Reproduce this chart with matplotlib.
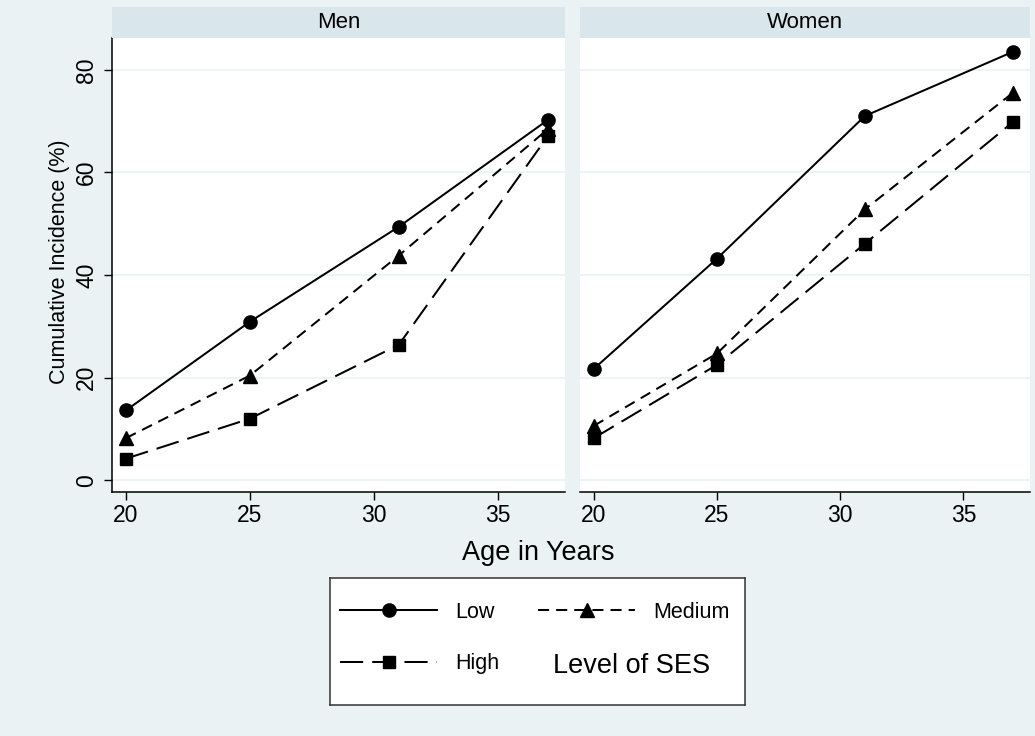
import matplotlib
matplotlib.use('Agg')
import matplotlib.pyplot as plt
import numpy as np

plt.rcParams['font.family'] = ['Liberation Sans', 'DejaVu Sans']

# data
age = [20, 25, 31, 37]
men_low = [13.6, 30.9, 49.4, 70.2]
men_medium = [8.2, 20.4, 43.8, 68.4]
men_high = [4.2, 12.0, 26.4, 67.0]
women_low = [21.7, 43.2, 71.0, 83.5]
women_medium = [10.6, 24.7, 52.8, 75.5]
women_high = [8.2, 22.5, 46.1, 69.8]
panels = ['Men', 'Women']
levels = ['Low', 'Medium', 'High']
yticks = [0, 20, 40, 60, 80]
xticks = [20, 25, 30, 35]

W, H = 1035, 736
bg = '#eaf2f3'
strip_col = '#d9e6eb'
lw = 1.45
styles = {
    'Low': dict(ls='-', marker='o', ms=9.5),
    'Medium': dict(ls=(0, (5.5, 3.5)), marker='^', ms=9.5),
    'High': dict(ls=(0, (11.5, 4.5)), marker='s', ms=8.5),
}


def box(l, t, r, b):
    # pixel box -> figure fraction
    return [l / W, 1 - b / H, (r - l) / W, (b - t) / H]


fig = plt.figure(figsize=(W / 100, H / 100), dpi=100, facecolor=bg)

series = {
    'Men': [men_low, men_medium, men_high],
    'Women': [women_low, women_medium, women_high],
}
axes_px = {'Men': (112, 565), 'Women': (580, 1030)}

handles = {}
for i, name in enumerate(panels):
    l, r = axes_px[name]
    ax = fig.add_axes(box(l, 38, r, 492))
    ax.set_facecolor('white')
    for lev, vals in zip(levels, series[name]):
        st = styles[lev]
        h, = ax.plot(age, vals, color='black', lw=lw, ls=st['ls'],
                     marker=st['marker'], ms=st['ms'], mfc='black', mec='black')
        handles[lev] = h
    ax.set_xlim(19.44, 37.7)
    ax.set_ylim(-2.3, 86.2)
    ax.set_xticks(xticks)
    ax.set_yticks(yticks)
    ax.grid(axis='y', color=bg, lw=1.2)
    ax.set_axisbelow(True)
    for s in ['top', 'right']:
        ax.spines[s].set_visible(False)
    ax.spines['bottom'].set_linewidth(1.1)
    ax.tick_params(axis='x', direction='out', length=6, width=1, labelsize=16.5, pad=2.5)
    if i == 0:
        ax.spines['left'].set_linewidth(1.1)
        ax.tick_params(axis='y', direction='out', length=6, width=1, labelsize=16.5,
                       pad=4, labelrotation=90)
        for t in ax.get_yticklabels():
            t.set_va('center')
    else:
        ax.spines['left'].set_visible(False)
        ax.tick_params(axis='y', left=False, labelleft=False)

    # panel strip
    sax = fig.add_axes(box(l, 7, r, 38))
    sax.set_facecolor(strip_col)
    sax.set_xticks([])
    sax.set_yticks([])
    for s in sax.spines.values():
        s.set_visible(False)
    sax.text(0.5, 0.5, name, ha='center', va='center', fontsize=16, transform=sax.transAxes)

fig.text(538 / W, 1 - 553 / H, 'Age in Years', ha='center', va='center', fontsize=19.5)
fig.text(60 / W, 1 - 262 / H, 'Cumulative Incidence (%)', ha='center', va='center',
         rotation=90, fontsize=15.5)

# legend box
lax = fig.add_axes(box(330, 578, 745, 705))
lax.set_facecolor('white')
lax.set_xticks([])
lax.set_yticks([])
for s in lax.spines.values():
    s.set_linewidth(1.1)
    s.set_color('#333333')
lax.legend([handles['Low'], handles['High'], handles['Medium']], ['Low', 'High', 'Medium'],
           ncol=2, loc='upper left', bbox_to_anchor=(-0.012, 0.93), frameon=False,
           fontsize=15.5, handlelength=4.5, handletextpad=0.85, columnspacing=1.8,
           labelspacing=1.4, numpoints=1, borderaxespad=0.3)
lax.text(0.537, 0.31, 'Level of SES', ha='left', va='center', fontsize=19.5,
         transform=lax.transAxes)

fig.savefig('out.png', dpi=100, facecolor=bg)
